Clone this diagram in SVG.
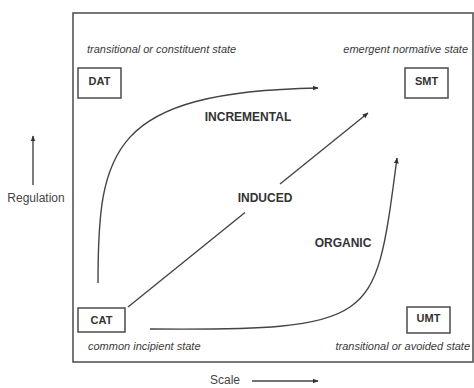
<svg xmlns="http://www.w3.org/2000/svg" width="474" height="388" viewBox="0 0 474 388">
<defs>
<style>
.frame{fill:none;stroke:#555;stroke-width:1.6}
.box{fill:#fff;stroke:#555;stroke-width:1.6}
.bl{font-family:"Liberation Sans",Arial,sans-serif;font-weight:bold;fill:#333}
.it{font-family:"Liberation Sans",Arial,sans-serif;font-style:italic;font-size:11px;fill:#3a3a3a}
.ax{font-family:"Liberation Sans",Arial,sans-serif;font-size:12px;fill:#444}
.ln{fill:none;stroke:#444;stroke-width:1.4}
</style>
<marker id="ah" viewBox="0 0 10 10" refX="9" refY="5" markerWidth="6" markerHeight="6" orient="auto" markerUnits="userSpaceOnUse">
<path d="M0,1 L10,5 L0,9 Z" fill="#333"/>
</marker>
</defs>
<rect width="474" height="388" fill="#fff"/>
<rect class="frame" x="73" y="13" width="400" height="349"/>
<g id="axes">
<line class="ln" x1="33" y1="185" x2="33" y2="136" marker-end="url(#ah)"/>
<text class="ax" x="36" y="202" text-anchor="middle">Regulation</text>
<line class="ln" x1="252" y1="381" x2="318" y2="381" marker-end="url(#ah)"/>
<text class="ax" x="225" y="384" text-anchor="middle">Scale</text>
</g>
<g id="connectors">
<path id="incremental" class="ln" d="M98,283 C98,150 110,92 318,88" marker-end="url(#ah)"/>
<line class="ln" x1="128" y1="307" x2="245" y2="212.5"/>
<line id="induced" class="ln" x1="280" y1="184" x2="368" y2="113" marker-end="url(#ah)"/>
<path id="organic" class="ln" d="M150,329 C260,330 320,328 350,307 S385,250 397,158" marker-end="url(#ah)"/>
<text class="bl" x="248" y="121" font-size="12" text-anchor="middle">INCREMENTAL</text>
<text class="bl" x="265" y="202" font-size="12" text-anchor="middle">INDUCED</text>
<text class="bl" x="343" y="247" font-size="12" text-anchor="middle">ORGANIC</text>
</g>
<g id="DAT">
<text class="it" x="87" y="53">transitional or constituent state</text>
<rect class="box" x="78" y="68" width="43" height="30"/>
<text class="bl" x="99.5" y="85" font-size="11" text-anchor="middle">DAT</text>
</g>
<g id="SMT">
<text class="it" x="468" y="53" text-anchor="end">emergent normative state</text>
<rect class="box" x="405" y="68" width="43" height="30"/>
<text class="bl" x="426.5" y="85" font-size="11" text-anchor="middle">SMT</text>
</g>
<g id="CAT">
<rect class="box" x="78" y="308" width="47" height="24"/>
<text class="bl" x="101.5" y="324" font-size="11" text-anchor="middle">CAT</text>
<text class="it" x="88" y="350">common incipient state</text>
</g>
<g id="UMT">
<rect class="box" x="407" y="307" width="43" height="26"/>
<text class="bl" x="428.5" y="322" font-size="11" text-anchor="middle">UMT</text>
<text class="it" x="470" y="350" text-anchor="end">transitional or avoided state</text>
</g>
</svg>
